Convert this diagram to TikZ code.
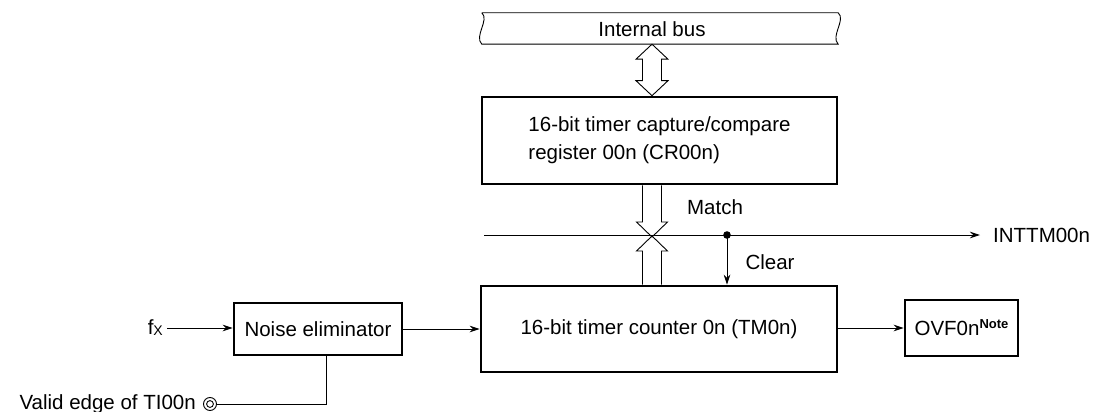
\documentclass[tikz,border=0pt]{standalone}
\usepackage{fontspec}
\setmainfont{Liberation Sans}
\usetikzlibrary{arrows.meta,calc}
\begin{document}
\begin{tikzpicture}[x=1pt,y=-1pt,
  every node/.style={font=\fontsize{20.5}{28}\selectfont},
  box/.style={draw,line width=2.6pt,inner sep=0pt,fill=white},
  thin/.style={line width=0.9pt},
  arr/.style={thin,-{Stealth[length=10pt,width=6.5pt]}},
  lbl/.style={inner sep=0pt}]
\useasboundingbox (0,0) rectangle (1095,412);
% internal bus
\node[minimum width=356pt,minimum height=31pt,inner sep=0pt] (bus) at (660,28.5) {};
\draw[thin,fill=white] (bus.north west) -- (bus.north east)
  .. controls ($(bus.north east)+(8,7)$) and ($(bus.south east)+(-8,-8)$) .. (bus.south east)
  -- (bus.south west)
  .. controls ($(bus.south west)+(-8,-8)$) and ($(bus.north west)+(8,7)$) .. (bus.north west);
\node[lbl] (bustxt) at (652,29) {Internal bus};
% boxes
\node[box,minimum width=355pt,minimum height=87pt,align=left] (cr) at (659.5,140.5)
  {16-bit timer capture/compare\\register 00n (CR00n)};
\node[box,minimum width=356pt,minimum height=86pt] (tm) at (659,329)
  {16-bit timer counter 0n (TM0n)};
\node[box,minimum width=168pt,minimum height=52pt] (ne) at (318,329) {Noise eliminator};
\node[box,minimum width=113pt,minimum height=56pt] (ovf) at (961.5,328)
  {OVF0n\raisebox{7pt}{\fontsize{13}{13}\selectfont\bfseries Note}};
% upper double arrow
\coordinate (dx) at (652,0);
\coordinate (a1) at (dx |- bus.south);
\coordinate (a2) at (dx |- cr.north);
\draw[thin,fill=white] (a1) -- ($(a1)+(16,15)$) -- ($(a1)+(9.5,15)$) -- ($(a2)+(9.5,-15)$)
  -- ($(a2)+(16,-15)$) -- (a2) -- ($(a2)+(-16,-15)$) -- ($(a2)+(-9.5,-15)$)
  -- ($(a1)+(-9.5,15)$) -- ($(a1)+(-16,15)$) -- cycle;
% match line
\coordinate (ls) at (484,235);
\node[lbl,anchor=west,inner xsep=13pt] (int) at (980,235) {INTTM00n};
\draw[arr] (ls) -- (int.west);
\coordinate (dot) at (727,235);
\fill (dot) circle (3.8);
\draw[arr] (dot) -- (dot |- tm.north);
\node[lbl] (match) at (715,207) {Match};
\node[lbl] (clear) at (770,262) {Clear};
% lower double arrows (crossing)
\coordinate (b1) at (dx |- cr.south);
\coordinate (bx) at (dx |- ls);
\coordinate (b2) at (dx |- tm.north);
\draw[thin] ($(b1)+(-9.5,0)$) -- ($(bx)+(-9.5,-13)$) -- ($(bx)+(-15.5,-13)$) -- ($(bx)+(0,2)$)
  -- ($(bx)+(15.5,-13)$) -- ($(bx)+(9.5,-13)$) -- ($(b1)+(9.5,0)$);
\draw[thin] ($(b2)+(-9.5,0)$) -- ($(bx)+(-9.5,16)$) -- ($(bx)+(-15.5,16)$) -- ($(bx)+(0,1)$)
  -- ($(bx)+(15.5,16)$) -- ($(bx)+(9.5,16)$) -- ($(b2)+(9.5,0)$);
% inputs
\node[lbl,anchor=east,inner xsep=4pt] (fx) at (167,328)
  {f\raisebox{-1pt}{\fontsize{14}{14}\selectfont X}};
\draw[arr] (fx.east) -- (fx.east -| ne.west);
\draw[arr] (ne.east |- tm.west) -- (tm.west);
\draw[arr] (tm.east |- ovf.west) -- (ovf.west);
\node[circle,draw,thin,minimum size=13pt,inner sep=0pt] (ve) at (210,404) {};
\draw[thin] (ve.center) circle (3.4);
\node[lbl,anchor=east] (vetxt) at (196,404) {Valid edge of TI00n};
\draw[thin] (ve.east) -| ($(ne.south)+(8,0)$);
\end{tikzpicture}
\end{document}
